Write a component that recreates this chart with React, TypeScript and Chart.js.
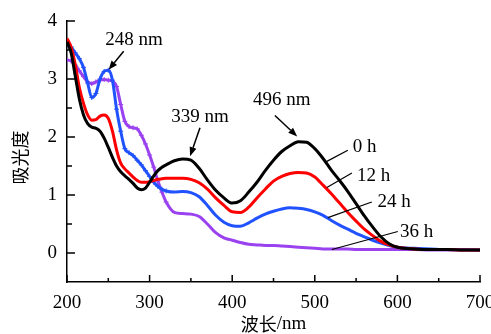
import { useEffect, useRef } from "react";
import { Chart, registerables } from "chart.js";
Chart.register(...registerables);

const wavelengths = [
  200, 205, 210, 215, 220, 225, 230, 235, 240, 245, 250, 255, 260, 265, 270, 275, 280, 285, 290, 295, 300, 305, 310, 315, 320,
  330, 340, 350, 360, 370, 380, 390, 400, 410, 420, 430, 440, 450, 460, 470, 480, 490, 500, 510, 520, 530, 540, 550, 560, 570, 580, 590, 600,
  620, 640, 660, 680, 700,
];

const abs0h = [
  3.64, 3.45, 3.05, 2.65, 2.38, 2.23, 2.17, 2.15, 2.1, 1.98, 1.82, 1.65, 1.5, 1.4, 1.33, 1.27, 1.2, 1.12, 1.09, 1.12, 1.22, 1.33, 1.42, 1.48, 1.52,
  1.59, 1.62, 1.6, 1.46, 1.26, 1.08, 0.95, 0.86, 0.9, 1.05, 1.22, 1.42, 1.6, 1.75, 1.85, 1.92, 1.91, 1.8, 1.63, 1.43, 1.25, 1.06, 0.85, 0.64, 0.45, 0.28, 0.16, 0.1,
  0.07, 0.06, 0.06, 0.05, 0.05,
];

const abs12h = [
  3.7, 3.55, 3.25, 2.85, 2.58, 2.38, 2.29, 2.3, 2.36, 2.38, 2.32, 2.1, 1.78, 1.55, 1.45, 1.38, 1.31, 1.25, 1.22, 1.22, 1.23, 1.25, 1.27, 1.28, 1.29,
  1.29, 1.29, 1.27, 1.21, 1.1, 0.95, 0.82, 0.71, 0.7, 0.79, 0.95, 1.1, 1.24, 1.32, 1.37, 1.39, 1.38, 1.31, 1.17, 1.02, 0.86, 0.7, 0.55, 0.41, 0.3, 0.2, 0.14, 0.1,
  0.07, 0.06, 0.06, 0.05, 0.05,
];

const abs24h = [
  3.59, 3.55, 3.45, 3.35, 3.2, 2.93, 2.68, 2.75, 3.0, 3.13, 3.15, 2.98, 2.48, 2.1, 1.8, 1.73, 1.68, 1.6, 1.52, 1.42, 1.32, 1.22, 1.15, 1.1, 1.07,
  1.05, 1.06, 1.04, 0.97, 0.82, 0.65, 0.53, 0.47, 0.46, 0.52, 0.6, 0.67, 0.72, 0.76, 0.78, 0.77, 0.75, 0.71, 0.65, 0.56, 0.48, 0.41, 0.34, 0.28, 0.22, 0.17, 0.13, 0.1,
  0.08, 0.07, 0.06, 0.06, 0.05,
];

const abs36h = [
  3.33, 3.31, 3.24, 3.14, 3.04, 2.95, 2.92, 2.95, 2.98, 2.99, 2.98, 2.96, 2.87, 2.56, 2.27, 2.18, 2.16, 2.14, 2.03, 1.88, 1.69, 1.48, 1.24, 1.05, 0.88,
  0.7, 0.68, 0.67, 0.63, 0.5, 0.35, 0.26, 0.22, 0.18, 0.15, 0.14, 0.13, 0.13, 0.12, 0.11, 0.1, 0.09, 0.08, 0.07, 0.07, 0.07, 0.07, 0.06, 0.06, 0.06, 0.06, 0.06, 0.06,
  0.06, 0.05, 0.05, 0.05, 0.05,
];

const seriesNames = ["0 h", "12 h", "24 h", "36 h"];
const seriesColors = ["#000000", "#ff0000", "#2152ff", "#9b42f0"];

const xMajorTicks = [200, 300, 400, 500, 600, 700];
const xMinorTicks = [250, 350, 450, 550, 650];
const yMajorTicks = [0, 1, 2, 3, 4];
const yMinorTicks = [0.5, 1.5, 2.5, 3.5];

const peakNotes = [
  { text: "248 nm", x: 281, y: 3.68, from: [268.6, 3.48], to: [250.4, 3.16] },
  { text: "339 nm", x: 361, y: 2.35, from: [361, 2.16], to: [349, 1.67] },
  { text: "496 nm", x: 460, y: 2.64, from: [451.7, 2.37], to: [478.7, 2.01] },
];

const seriesNotes = [
  { text: "0 h", x: 546, y: 1.82, from: [514.6, 1.58], to: [540, 1.77] },
  { text: "12 h", x: 551, y: 1.32, from: [514.6, 1.13], to: [544.9, 1.38] },
  { text: "24 h", x: 576, y: 0.88, from: [515.8, 0.61], to: [569, 0.88] },
  { text: "36 h", x: 603, y: 0.37, from: [520.7, 0.06], to: [600.5, 0.37] },
];

const SERIF = "'Liberation Serif', 'Times New Roman', serif";
const CJK = "'Noto Sans CJK SC', sans-serif";

const decorPlugin = {
  id: "decor",
  afterDraw(chart: any) {
    const { ctx, chartArea } = chart;
    const xs = chart.scales.x;
    const ys = chart.scales.y;
    ctx.save();
    ctx.strokeStyle = "#000";
    ctx.fillStyle = "#000";
    ctx.lineWidth = 1.5;
    // ticks (inward)
    ctx.beginPath();
    for (const v of xMajorTicks) {
      const px = xs.getPixelForValue(v);
      ctx.moveTo(px, chartArea.bottom);
      ctx.lineTo(px, chartArea.bottom - 7);
    }
    for (const v of xMinorTicks) {
      const px = xs.getPixelForValue(v);
      ctx.moveTo(px, chartArea.bottom);
      ctx.lineTo(px, chartArea.bottom - 4);
    }
    for (const v of yMajorTicks) {
      const py = ys.getPixelForValue(v);
      ctx.moveTo(chartArea.left, py);
      ctx.lineTo(chartArea.left + 8, py);
    }
    for (const v of yMinorTicks) {
      const py = ys.getPixelForValue(v);
      ctx.moveTo(chartArea.left, py);
      ctx.lineTo(chartArea.left + 5, py);
    }
    ctx.stroke();

    // peak annotations with arrows
    ctx.font = `19px ${SERIF}`;
    ctx.textBaseline = "middle";
    for (const n of peakNotes) {
      ctx.textAlign = "center";
      ctx.fillText(n.text, xs.getPixelForValue(n.x), ys.getPixelForValue(n.y));
      const x1 = xs.getPixelForValue(n.from[0]);
      const y1 = ys.getPixelForValue(n.from[1]);
      const x2 = xs.getPixelForValue(n.to[0]);
      const y2 = ys.getPixelForValue(n.to[1]);
      const ang = Math.atan2(y2 - y1, x2 - x1);
      const hl = 9;
      const hw = 3.5;
      const bx = x2 - hl * Math.cos(ang);
      const by = y2 - hl * Math.sin(ang);
      ctx.lineWidth = 1.5;
      ctx.beginPath();
      ctx.moveTo(x1, y1);
      ctx.lineTo(bx, by);
      ctx.stroke();
      ctx.beginPath();
      ctx.moveTo(x2, y2);
      ctx.lineTo(bx + hw * Math.sin(ang), by - hw * Math.cos(ang));
      ctx.lineTo(bx - hw * Math.sin(ang), by + hw * Math.cos(ang));
      ctx.closePath();
      ctx.fill();
    }

    // series labels with leader lines
    for (const n of seriesNotes) {
      ctx.textAlign = "left";
      ctx.fillText(n.text, xs.getPixelForValue(n.x), ys.getPixelForValue(n.y));
      ctx.lineWidth = 1.2;
      ctx.beginPath();
      ctx.moveTo(xs.getPixelForValue(n.from[0]), ys.getPixelForValue(n.from[1]));
      ctx.lineTo(xs.getPixelForValue(n.to[0]), ys.getPixelForValue(n.to[1]));
      ctx.stroke();
    }

    // axis titles
    ctx.save();
    ctx.translate(20, (chartArea.top + chartArea.bottom) / 2 + 6);
    ctx.rotate(-Math.PI / 2);
    ctx.textAlign = "center";
    ctx.font = `18px ${CJK}`;
    ctx.fillText("吸光度", 0, 0);
    ctx.restore();

    const cx = (chartArea.left + chartArea.right) / 2;
    const ty = 324;
    ctx.font = `18px ${CJK}`;
    const w1 = ctx.measureText("波长").width;
    ctx.font = `19px ${SERIF}`;
    const w2 = ctx.measureText("/nm").width;
    const start = cx - (w1 + w2) / 2;
    ctx.textAlign = "left";
    ctx.font = `18px ${CJK}`;
    ctx.fillText("波长", start, ty);
    ctx.font = `19px ${SERIF}`;
    ctx.fillText("/nm", start + w1, ty);
    ctx.restore();
  },
};

export default function App() {
  const ref = useRef<HTMLCanvasElement>(null);
  useEffect(() => {
    if (!ref.current) return;
    const allAbs = [abs0h, abs12h, abs24h, abs36h];
    const chart = new Chart(ref.current, {
      type: "line",
      data: {
        datasets: allAbs.map((arr, i) => ({
          label: seriesNames[i],
          data: wavelengths.map((w, j) => ({ x: w, y: arr[j] })),
          borderColor: seriesColors[i],
          backgroundColor: seriesColors[i],
          borderWidth: 3,
          cubicInterpolationMode: "monotone" as const,
          pointStyle: "cross",
          pointBorderWidth: 1,
          pointRadius: (c: any) => (i >= 2 && c.raw && c.raw.x <= 320 ? 2.5 : 0),
          fill: false,
        })),
      },
      options: {
        animation: false,
        responsive: false,
        maintainAspectRatio: false,
        layout: { padding: { top: 21, right: 11, left: 0, bottom: 0 } },
        plugins: { legend: { display: false }, tooltip: { enabled: false } },
        scales: {
          x: {
            type: "linear",
            min: 200,
            max: 700,
            grid: { display: false, drawTicks: false },
            border: { display: true, color: "#000", width: 1.5 },
            afterBuildTicks: (s: any) => {
              s.ticks = xMajorTicks.map((v) => ({ value: v }));
            },
            afterFit: (s: any) => {
              s.height = 52;
              s.paddingLeft = 0;
              s.paddingRight = 0;
            },
            ticks: {
              autoSkip: false,
              maxRotation: 0,
              padding: 10,
              color: "#000",
              font: { family: SERIF, size: 19 },
            },
          },
          y: {
            type: "linear",
            min: -0.5,
            max: 4,
            grid: { display: false, drawTicks: false },
            border: { display: true, color: "#000", width: 1.5 },
            afterBuildTicks: (s: any) => {
              s.ticks = yMajorTicks.map((v) => ({ value: v }));
            },
            afterFit: (s: any) => {
              s.width = 67;
              s.paddingTop = 0;
              s.paddingBottom = 0;
            },
            ticks: {
              autoSkip: false,
              padding: 10,
              color: "#000",
              font: { family: SERIF, size: 19 },
            },
          },
        },
      },
      plugins: [decorPlugin],
    });
    return () => chart.destroy();
  }, []);
  return (
    <div style={{ position: "absolute", left: 0, top: 0, width: 491, height: 334, background: "#fff" }}>
      <canvas ref={ref} width={491} height={334} style={{ width: 491, height: 334 }} />
    </div>
  );
}
